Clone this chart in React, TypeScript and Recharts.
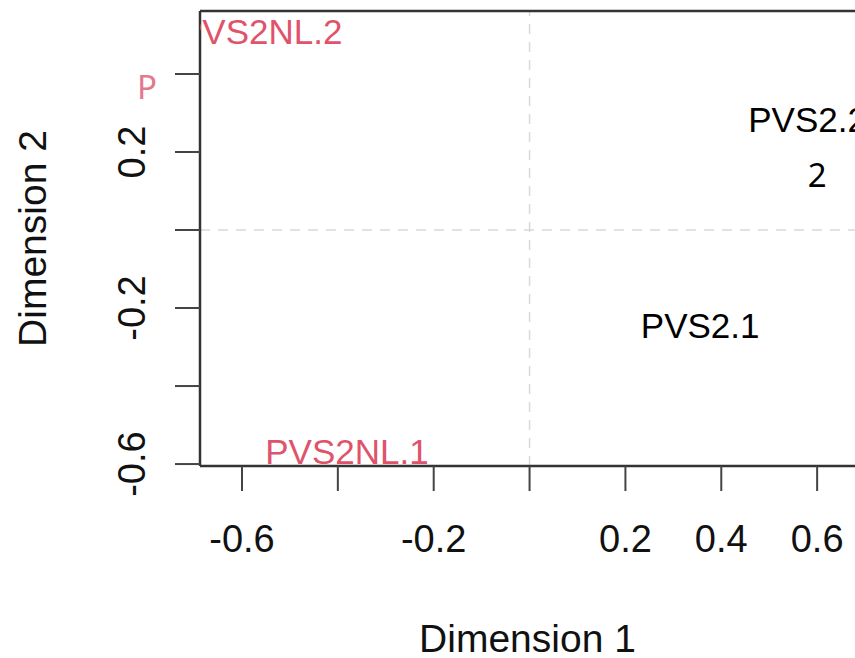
import {
  ScatterChart,
  Scatter,
  XAxis,
  YAxis,
  ReferenceLine,
  ReferenceDot,
} from "recharts";

// MDS coordinates per sample
const sampleNames = ["PVS2NL.1", "PVS2NL.2", "PVS2.1", "PVS2.2"];
const sampleGroups = ["PVS2NL", "PVS2NL", "PVS2", "PVS2"];
const dim1 = [-0.381, -0.561, 0.356, 0.58];
const dim2 = [-0.568, 0.51, -0.245, 0.283];

const groupColors: Record<string, string> = {
  PVS2NL: "#DF536B",
  PVS2: "#000000",
};

// stray glyph fragments sitting on top of the plot
const fragmentText = ["P", "2"];
const fragmentX = [-0.798, 0.6];
const fragmentY = [0.367, 0.14];
const fragmentColor = ["#E27A8C", "#000000"];

const xTicks = [-0.6, -0.4, -0.2, 0, 0.2, 0.4, 0.6];
const xTickLabels = ["-0.6", "", "-0.2", "", "0.2", "0.4", "0.6"];
const yTicks = [-0.6, -0.4, -0.2, 0, 0.2, 0.4];
const yTickLabels = ["-0.6", "", "-0.2", "", "0.2", ""];

const xDomain: [number, number] = [-0.6876, 0.679];
const yDomain: [number, number] = [-0.605, 0.5615];

const FONT = '"Liberation Sans", Arial, Helvetica, sans-serif';

const points = sampleNames.map((name, i) => ({
  name,
  x: dim1[i],
  y: dim2[i],
  color: groupColors[sampleGroups[i]],
}));

const SampleLabel = (props: any) => {
  const { cx, cy, payload } = props;
  return (
    <text
      x={cx}
      y={cy}
      dy="0.355em"
      textAnchor="middle"
      fontFamily={FONT}
      fontSize={35}
      fill={payload.color}
    >
      {payload.name}
    </text>
  );
};

const XTick = (props: any) => {
  const { x, y, payload } = props;
  const idx = xTicks.indexOf(payload.value);
  return (
    <text
      x={x}
      y={y}
      dy="0.71em"
      textAnchor="middle"
      fontFamily={FONT}
      fontSize={38}
      fill="#111"
    >
      {xTickLabels[idx] ?? ""}
    </text>
  );
};

const YTick = (props: any) => {
  const { x, y, payload } = props;
  const idx = yTicks.indexOf(payload.value);
  return (
    <text
      x={x}
      y={y}
      transform={`rotate(-90, ${x}, ${y})`}
      textAnchor="middle"
      fontFamily={FONT}
      fontSize={38}
      fill="#111"
    >
      {yTickLabels[idx] ?? ""}
    </text>
  );
};

const YTitle = (props: any) => {
  const { viewBox } = props;
  const cy = viewBox.y + viewBox.height / 2;
  const x = 46;
  return (
    <text
      x={x}
      y={cy}
      transform={`rotate(-90, ${x}, ${cy})`}
      textAnchor="middle"
      fontFamily={FONT}
      fontSize={39}
      fill="#111"
    >
      Dimension 2
    </text>
  );
};

export default function App() {
  return (
    <div style={{ position: "absolute", left: 0, top: 0, background: "#fff" }}>
      <ScatterChart
        width={855}
        height={658}
        margin={{ top: 11, right: 0, bottom: 0, left: 0 }}
      >
        <XAxis
          type="number"
          dataKey="x"
          domain={xDomain}
          ticks={xTicks}
          allowDataOverflow
          height={192}
          tickSize={25}
          tickMargin={34}
          tick={<XTick />}
          axisLine={{ stroke: "#333", strokeWidth: 2.5 }}
          tickLine={{ stroke: "#444", strokeWidth: 2 }}
          label={{
            value: "Dimension 1",
            position: "insideBottom",
            offset: 6,
            fontSize: 39,
            fontFamily: FONT,
            fill: "#111",
          }}
        />
        <YAxis
          type="number"
          dataKey="y"
          domain={yDomain}
          ticks={yTicks}
          allowDataOverflow
          width={200}
          tickSize={25}
          tickMargin={30}
          tick={<YTick />}
          axisLine={{ stroke: "#333", strokeWidth: 2.5 }}
          tickLine={{ stroke: "#444", strokeWidth: 2 }}
          label={<YTitle />}
        />
        <ReferenceLine x={0} stroke="#d9d9d9" strokeWidth={1.5} strokeDasharray="10 8" />
        <ReferenceLine y={0} stroke="#d9d9d9" strokeWidth={1.5} strokeDasharray="10 8" />
        <ReferenceLine y={yDomain[1]} stroke="#333" strokeWidth={2.5} />
        <Scatter
          data={points}
          shape={<SampleLabel />}
          isAnimationActive={false}
        />
        {fragmentText.map((t, i) => (
          <ReferenceDot
            key={t + i}
            x={fragmentX[i]}
            y={fragmentY[i]}
            ifOverflow="visible"
            shape={(p: any) => (
              <text
                x={p.cx}
                y={p.cy}
                dy="0.357em"
                textAnchor="middle"
                fontFamily='"Noto Sans", sans-serif'
                fontSize={33}
                fill={fragmentColor[i]}
              >
                {t}
              </text>
            )}
          />
        ))}
      </ScatterChart>
    </div>
  );
}
